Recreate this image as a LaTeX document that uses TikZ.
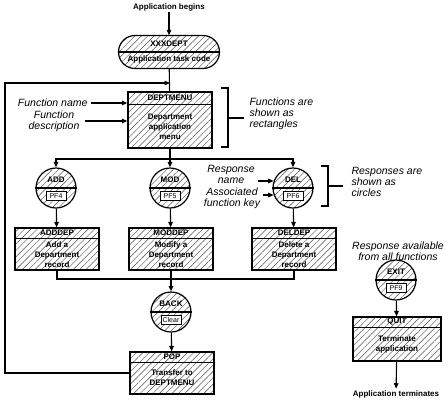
\documentclass[tikz,border=0pt]{standalone}
\usepackage{fontspec}
\setmainfont{Liberation Sans}
\usetikzlibrary{arrows.meta,patterns.meta,shapes.misc}

\tikzset{
  hatch/.style={pattern={Lines[angle=45,distance=4.5pt,line width=0.45pt]},pattern color=black!70},
  fnbox/.style={draw,line width=1.2pt,hatch,minimum width=84pt,minimum height=42pt,inner sep=0pt},
  resp/.style={draw,line width=1.2pt,circle,hatch,minimum size=40pt,inner sep=0pt},
  keybox/.style={draw,line width=0.9pt,fill=white,font=\fontsize{7}{7}\selectfont,inner sep=0.6pt,minimum width=20pt,minimum height=9pt},
  tname/.style={font=\bfseries\fontsize{8}{9}\selectfont,inner sep=0.5pt},
  desc/.style={font=\bfseries\fontsize{8}{10}\selectfont,align=center,inner sep=0pt},
  note/.style={font=\itshape\fontsize{10.5}{11}\selectfont,align=center,inner sep=0pt},
  endtext/.style={font=\bfseries\fontsize{8}{9}\selectfont,inner sep=1pt}
}

\begin{document}
\begin{tikzpicture}[x=1pt,y=-1pt,>={Triangle[length=5.5pt,width=4.5pt]},line width=1.1pt]
\useasboundingbox (0,0) rectangle (448,400);

% start
\node[endtext] (begins) at (169,7) {Application begins};
\node[draw,line width=1.2pt,hatch,rounded rectangle,minimum width=101pt,minimum height=33pt,inner sep=0pt] (task) at (169,52) {};
\draw[line width=1.2pt] (task.west) -- (task.east);
\node[tname] (task-t) at ([yshift=8pt]task.center) {XXXDEPT};
\node[tname] (task-d) at ([yshift=-7.5pt]task.center) {Application task code};
\draw[->] (begins) -- (task);

% main menu
\node[fnbox,minimum height=56pt] (deptmenu) at (170,120) {};
\draw[line width=1.2pt] ([yshift=-13pt]deptmenu.north west) -- ([yshift=-13pt]deptmenu.north east);
\node[tname] (deptmenu-t) at ([yshift=-6.5pt]deptmenu.north) {DEPTMENU};
\node[desc] (deptmenu-d) at ([yshift=-6.5pt]deptmenu.center) {Department\\application\\menu};
\coordinate (join) at (170,83);
\draw (task) -- (deptmenu);

\node[note,anchor=east] (fname) at (88,103) {Function name};
\draw[->] ([xshift=3pt]fname.east) -- (fname.east -| deptmenu.west);
\node[note] (fdesc) at (54,121) {Function\\description};
\draw[->] ([xshift=5pt]fdesc.east) -- (fdesc.east -| deptmenu.west);

\draw (221,88) -- (228,88) -- (228,147) -- (221,147);
\draw (228,118) -- (244,118);
\node[note,anchor=west,align=left] (fnnote) at (249,114) {Functions are\\shown as\\rectangles};

% responses
\node[resp] (add) at (56,188) {};
\draw[line width=1.2pt] (add.west) -- (add.east);
\node[tname] (add-t) at ([yshift=8pt]add.center) {ADD};
\node[keybox] (add-k) at ([yshift=-8pt]add.center) {PF4};

\node[resp] (mod) at (170,188) {};
\draw[line width=1.2pt] (mod.west) -- (mod.east);
\node[tname] (mod-t) at ([yshift=8pt]mod.center) {MOD};
\node[keybox] (mod-k) at ([yshift=-8pt]mod.center) {PF5};

\node[resp] (del) at (293,188) {};
\draw[line width=1.2pt] (del.west) -- (del.east);
\node[tname] (del-t) at ([yshift=8pt]del.center) {DEL};
\node[keybox] (del-k) at ([yshift=-8pt]del.center) {PF6};

\coordinate (fork) at (170,159);
\draw[->] (deptmenu) -- (mod);
\draw[->] (fork) -| (add);
\draw[->] (fork) -| (del);

\node[note] (rname) at (231,174) {Response\\name};
\draw[->] ([xshift=3pt]rname.east |- del.160) -- (del.160);
\node[note] (akey) at (232,198) {Associated\\function key};
\draw[->] ([xshift=2pt]akey.east |- del.200) -- (del.200);

\draw (321,166) -- (328,166) -- (328,206) -- (321,206);
\draw (328,186) -- (343,186);
\node[note,anchor=west,align=left] (respnote) at (351,182) {Responses are\\shown as\\circles};

% functions
\node[fnbox] (adddep) at (57,249) {};
\draw[line width=1.2pt] ([yshift=-11pt]adddep.north west) -- ([yshift=-11pt]adddep.north east);
\node[tname] (adddep-t) at ([yshift=-5.5pt]adddep.north) {ADDDEP};
\node[desc] (adddep-d) at ([yshift=-5.5pt]adddep.center) {Add a\\Department\\record};

\node[fnbox] (moddep) at (171,249) {};
\draw[line width=1.2pt] ([yshift=-11pt]moddep.north west) -- ([yshift=-11pt]moddep.north east);
\node[tname] (moddep-t) at ([yshift=-5.5pt]moddep.north) {MODDEP};
\node[desc] (moddep-d) at ([yshift=-5.5pt]moddep.center) {Modify a\\Department\\record};

\node[fnbox] (deldep) at (294,249) {};
\draw[line width=1.2pt] ([yshift=-11pt]deldep.north west) -- ([yshift=-11pt]deldep.north east);
\node[tname] (deldep-t) at ([yshift=-5.5pt]deldep.north) {DELDEP};
\node[desc] (deldep-d) at ([yshift=-5.5pt]deldep.center) {Delete a\\Department\\record};

\draw[->] (add) -- (adddep);
\draw[->] (mod) -- (moddep);
\draw[->] (del) -- (deldep);

\coordinate (merge) at (171,279);
\draw (adddep) |- (merge) -| (deldep);

% back
\node[resp] (back) at (171,312) {};
\draw[line width=1.2pt] (back.west) -- (back.east);
\node[tname] (back-t) at ([yshift=8pt]back.center) {BACK};
\node[keybox] (back-k) at ([yshift=-8pt]back.center) {Clear};
\draw[->] (moddep) -- (back);

\node[fnbox] (pop) at (172,373) {};
\draw[line width=1.2pt] ([yshift=-11pt]pop.north west) -- ([yshift=-11pt]pop.north east);
\node[tname] (pop-t) at ([yshift=-5.5pt]pop.north) {POP};
\node[desc] (pop-d) at ([yshift=-5pt]pop.center) {Transfer to\\DEPTMENU};
\draw[->] (back) -- (pop);
\draw[->] (pop.west) -| (5,83) -- (join);

% exit
\node[note] (anyfn) at (398,251) {Response available\\from all functions};
\node[resp] (exit) at (396,280) {};
\draw[line width=1.2pt] (exit.west) -- (exit.east);
\node[tname] (exit-t) at ([yshift=8pt]exit.center) {EXIT};
\node[keybox] (exit-k) at ([yshift=-8pt]exit.center) {PF9};

\node[fnbox,minimum width=88pt,minimum height=44pt] (quit) at (397,339) {};
\draw[line width=1.2pt] ([yshift=-11pt]quit.north west) -- ([yshift=-11pt]quit.north east);
\node[tname] (quit-t) at ([yshift=-5.5pt]quit.north) {QUIT};
\node[desc] (quit-d) at ([yshift=-5.5pt]quit.center) {Terminate\\application};
\draw[->] (exit) -- (quit);

\node[endtext] (terminates) at (396,394) {Application terminates};
\draw[->] (quit) -- (terminates);
\end{tikzpicture}
\end{document}
